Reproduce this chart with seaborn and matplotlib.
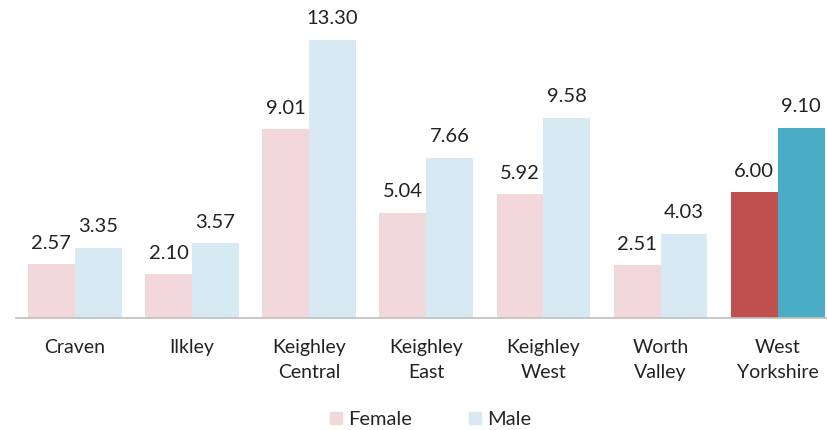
import pandas as pd
import matplotlib.pyplot as plt
import seaborn as sns
from matplotlib.lines import Line2D

# chart values
areas = ['Craven', 'Ilkley', 'Keighley\nCentral', 'Keighley\nEast',
         'Keighley\nWest', 'Worth\nValley', 'West\nYorkshire']
female = [2.57, 2.10, 9.01, 5.04, 5.92, 2.51, 6.00]
male = [3.35, 3.57, 13.30, 7.66, 9.58, 4.03, 9.10]

df = pd.DataFrame({
    'Area': areas * 2,
    'Sex': ['Female'] * len(areas) + ['Male'] * len(areas),
    'Value': female + male,
})

sns.set_style('white')
plt.rcParams['font.family'] = ['Lato', 'DejaVu Sans']

light_f = '#f2d8da'
light_m = '#d7eaf4'
dark_f = '#c0504d'
dark_m = '#4bacc6'

fig = plt.figure(figsize=(8.27, 4.30), dpi=100)
ax = fig.add_axes([0.0195, 0.2605, 0.9805, 0.7395])

sns.barplot(data=df, x='Area', y='Value', hue='Sex', order=areas,
            hue_order=['Female', 'Male'], palette=[light_f, light_m],
            width=0.8, saturation=1, legend=False, linewidth=0, ax=ax)

# highlight West Yorkshire
ax.containers[0][-1].set_facecolor(dark_f)
ax.containers[1][-1].set_facecolor(dark_m)

for cont in ax.containers:
    ax.bar_label(cont, fmt='%.2f', padding=9, fontsize=14.5, color='#222222')

ax.set_ylim(0, 15.2)
ax.set_xlim(-0.5, 6.42)
ax.set_xlabel('')
ax.set_ylabel('')
ax.set_yticks([])
ax.tick_params(axis='x', labelsize=14, colors='#222222', length=0, pad=15)
for lab in ax.get_xticklabels():
    lab.set_linespacing(1.6)
for s in ['top', 'right', 'left']:
    ax.spines[s].set_visible(False)
ax.spines['bottom'].set_color('#bfbfbf')
ax.spines['bottom'].set_linewidth(1.2)

handles = [Line2D([], [], marker='s', linestyle='', markersize=9, color=light_f),
           Line2D([], [], marker='s', linestyle='', markersize=9, color=light_m)]
fig.legend(handles, ['Female', 'Male'], loc='center', bbox_to_anchor=(0.517, 0.025),
           ncol=2, frameon=False, fontsize=14.5, handletextpad=0.0,
           handlelength=1.2, columnspacing=2.5)

fig.savefig('out.png', dpi=100)
